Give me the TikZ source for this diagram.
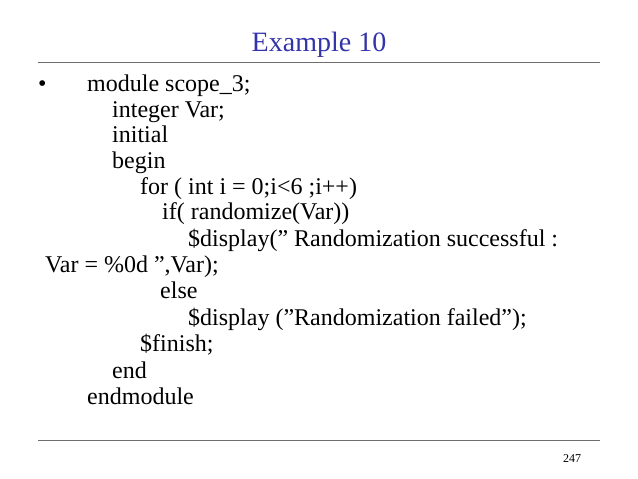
\documentclass[tikz,border=0pt]{standalone}
\usepackage{fontspec}
\setmainfont{Liberation Serif}
\newcommand\qq{\symbol{34}}
\definecolor{ttl}{RGB}{51,51,170}
\definecolor{rule}{RGB}{110,110,110}
\begin{document}
\begin{tikzpicture}[x=1pt,y=-1pt,
  code/.style={anchor=base west,inner sep=0pt,font=\fontsize{24}{26}\selectfont}]
\useasboundingbox[fill=white] (0,0) rectangle (638,479);
\node[font=\fontsize{28}{30}\selectfont,text=ttl,anchor=base] (title) at (319,52) {Example 10};
\draw[rule,line width=0.8] (38,62) -- (600,62);
\draw[rule,line width=0.8] (38,440) -- (600,440);
\node[anchor=base,font=\fontsize{12}{14}\selectfont] (pg) at (572,462) {247};
\node[code] (b) at (38,91) {•};
\node[code] (l1) at (87,91) {module scope\_3;};
\node[code] (l2) at (112,117) {integer Var;};
\node[code] (l3) at (112,142) {initial};
\node[code] (l4) at (112,168) {begin};
\node[code] (l5) at (140,194) {for ( int i = 0;i<6 ;i++)};
\node[code] (l6) at (162,219) {if( randomize(Var))};
\node[code] (l7) at (188,246) {\$display(\qq{} Randomization successful :};
\node[code] (l8) at (45,272) {Var = \%0d \qq,Var);};
\node[code] (l9) at (160,298) {else};
\node[code] (l10) at (188,325) {\$display (\qq Randomization failed\qq);};
\node[code] (l11) at (140,351) {\$finish;};
\node[code] (l12) at (112,378) {end};
\node[code] (l13) at (87,404) {endmodule};
\end{tikzpicture}
\end{document}
